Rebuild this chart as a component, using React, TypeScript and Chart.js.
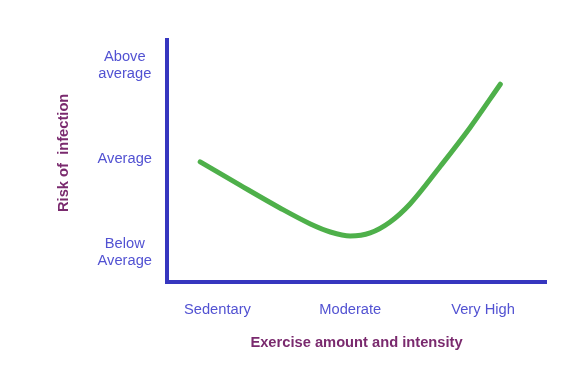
import React, { useEffect, useRef } from "react";
import { Chart, registerables } from "chart.js";

Chart.register(...registerables);

// Categorical positions on x: 0 = Sedentary, 1 = Moderate, 2 = Very High
const xTickLabels = ["Sedentary", "Moderate", "Very High"];
// Categorical positions on y: 0 = Below Average, 1 = Average, 2 = Above average
const yTickLabels: string[][] = [["Below", "Average"], ["Average"], ["Above", "average"]];
const tickPositions = [0, 1, 2];

// Curve (exercise level, risk level)
const exerciseLevel = [-0.13, 0.17, 0.47, 0.7, 0.85, 1.0, 1.15, 1.3, 1.45, 1.68, 1.9, 2.13];
const infectionRisk = [0.97, 0.72, 0.476, 0.305, 0.219, 0.176, 0.209, 0.326, 0.519, 0.925, 1.332, 1.8];

const FONT = "'Liberation Sans', Arial, sans-serif";
const AXIS_COLOR = "#3636bf";
const TICK_COLOR = "#5252d2";
const TITLE_COLOR = "#7a2a6e";
const LINE_COLOR = "#4eb04a";

export default function App() {
  const ref = useRef<HTMLCanvasElement | null>(null);

  useEffect(() => {
    if (!ref.current) return;
    const points = exerciseLevel.map((x, i) => ({ x, y: infectionRisk[i] }));
    const chart = new Chart(ref.current, {
      type: "scatter",
      data: {
        datasets: [
          {
            data: points,
            showLine: true,
            borderColor: LINE_COLOR,
            borderWidth: 5,
            borderCapStyle: "round",
            cubicInterpolationMode: "monotone",
            pointRadius: 0,
            pointHoverRadius: 0,
            fill: false,
          },
        ],
      },
      options: {
        animation: false,
        responsive: true,
        maintainAspectRatio: false,
        layout: { padding: { top: 40, right: 36, bottom: 0, left: 0 } },
        plugins: { legend: { display: false }, tooltip: { enabled: false } },
        scales: {
          x: {
            type: "linear",
            min: -0.38,
            max: 2.474,
            afterBuildTicks: (scale: any) => {
              scale.ticks = tickPositions.map((v) => ({ value: v }));
            },
            afterFit: (scale: any) => {
              scale.height = 93;
            },
            grid: { display: false, drawTicks: false },
            border: { display: true, color: AXIS_COLOR, width: 4 },
            ticks: {
              color: TICK_COLOR,
              font: { family: FONT, size: 14.7 },
              padding: 19,
              autoSkip: false,
              maxRotation: 0,
              callback: (v: any) => xTickLabels[Math.round(Number(v))] ?? "",
            },
            title: {
              display: true,
              text: "Exercise amount and intensity",
              color: TITLE_COLOR,
              font: { family: FONT, size: 14.7, weight: "bold" },
              padding: { top: 0, bottom: 23 },
            },
          },
          y: {
            type: "linear",
            min: -0.316,
            max: 2.273,
            afterBuildTicks: (scale: any) => {
              scale.ticks = tickPositions.map((v) => ({ value: v }));
            },
            afterFit: (scale: any) => {
              scale.width = 167;
            },
            grid: { display: false, drawTicks: false },
            border: { display: true, color: AXIS_COLOR, width: 4 },
            ticks: {
              color: TICK_COLOR,
              font: { family: FONT, size: 14.7 },
              padding: 15,
              crossAlign: "center",
              autoSkip: false,
              callback: (v: any) => yTickLabels[Math.round(Number(v))] ?? "",
            },
            title: {
              display: true,
              text: "    Risk of  infection",
              color: TITLE_COLOR,
              font: { family: FONT, size: 14.7, weight: "bold" },
              padding: { top: 55, bottom: 0 },
            },
          },
        },
      },
    });
    return () => chart.destroy();
  }, []);

  return (
    <div style={{ position: "fixed", left: 0, top: 0, width: 582, height: 375, background: "#fff" }}>
      <canvas ref={ref} />
    </div>
  );
}
